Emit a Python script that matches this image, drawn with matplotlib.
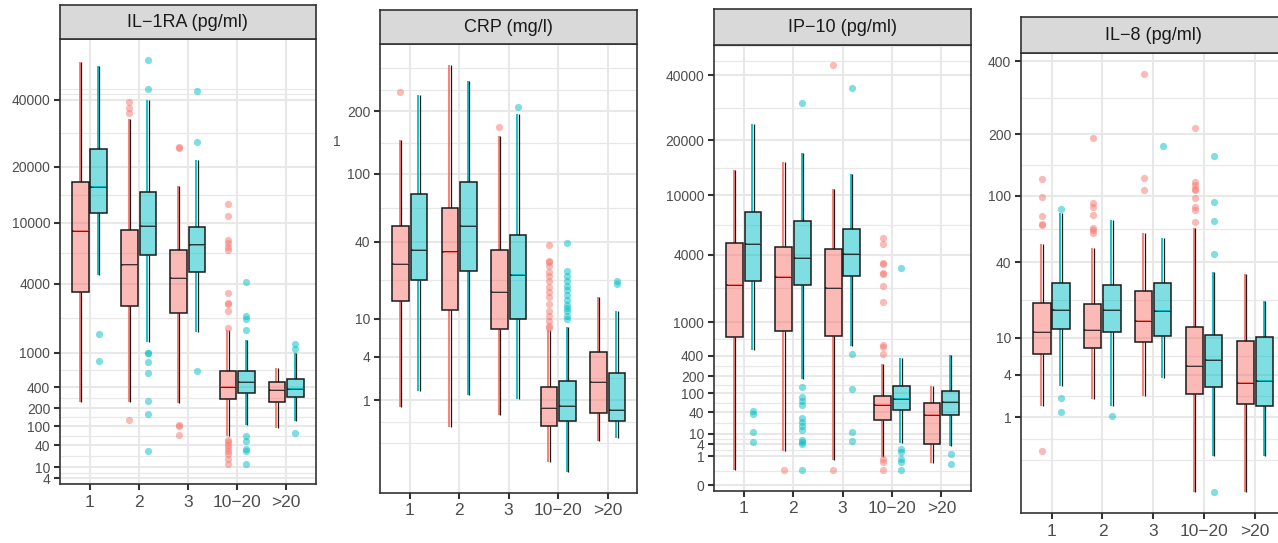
import numpy as np
import matplotlib
matplotlib.use('Agg')
import matplotlib.pyplot as plt
from matplotlib import transforms
from matplotlib.patches import Rectangle
from matplotlib.colors import to_rgba

plt.rcParams['font.family'] = ['Liberation Sans', 'DejaVu Sans']

# categories on the x axis and the shared y breaks
categories = ['1', '2', '3', '10\u221220', '>20']
breaks = [0, 1, 4, 10, 40, 100, 200, 400, 1000, 4000, 10000, 20000, 40000]
titles = ['IL\u22121RA (pg/ml)', 'CRP (mg/l)', 'IP\u221210 (pg/ml)', 'IL\u22128 (pg/ml)']

# box stats per category: lower whisker, q1, median, q3, upper whisker
il1ra_red = [[248, 3440, 8980, 16840, 56400],
             [248, 2704, 5387, 9100, 33240],
             [240, 2353, 4397, 6773, 16010],
             [62.6, 275, 408, 637, 1681],
             [91.8, 248, 369, 465, 684]]
il1ra_teal = [[4640, 11390, 15760, 24430, 54450],
              [1275, 6320, 9575, 14830, 40000],
              [1588, 4850, 7290, 9525, 21600],
              [102.6, 333, 465, 637, 1355],
              [124.6, 290, 381, 511, 1011]]
il1ra_red_out = [[],
                 [39360, 36930, 35170, 130],
                 [24970, 24700, 105.8, 100, 67.9],
                 [12830, 11030, 7911, 7578, 7183, 6843, 3404, 2843, 2800, 2427, 1742,
                  53, 47, 40, 35, 30, 24, 18, 13],
                 []]
il1ra_teal_out = [[1521, 819],
                  [57700, 44200, 1000, 990, 799, 608, 262, 164, 28.4],
                  [43660, 26170, 625],
                  [4154, 2203, 2092, 1681, 62.6, 49, 32.6, 30, 12.6],
                  [1219, 1096, 73.4]]

crp_red = [[0.749, 14.4, 28, 50.5, 148],
           [0.308, 12.05, 33.8, 64.7, 313],
           [0.539, 7.94, 17.16, 35.3, 153.7],
           [0.0267, 0.314, 0.719, 1.614, 7.82],
           [0.139, 0.581, 1.906, 4.57, 15.6]]
crp_teal = [[1.376, 21.4, 35.3, 77.7, 235],
            [1.205, 25, 50.5, 90.1, 269.8],
            [1.04, 10, 23.3, 44.1, 194.4],
            [0.0091, 0.408, 0.80, 1.97, 8.37],
            [0.164, 0.402, 0.678, 2.48, 11.8]]
crp_red_out = [[242.8],
               [],
               [169.8],
               [37.9, 29.6, 28.8, 27.2, 24.5, 22.9, 21, 18.6, 17, 15.4, 13.5, 11.8,
                10.6, 9.55, 8.55, 8.1],
               []]
crp_teal_out = [[],
                [],
                [208],
                [38.9, 25, 22.9, 21, 19.2, 17.6, 16.1, 14.7, 13.4, 12.5, 11.8, 10.6, 10],
                [21, 19.9]]

ip10_red = [[0.0657, 682, 2281, 4855, 13970],
            [1.88, 791, 2652, 4541, 15380],
            [0.524, 706, 2161, 4436, 10897],
            [0.915, 25.7, 59.6, 91, 308.5],
            [0.354, 4.25, 34.5, 64.8, 139]]
ip10_teal = [[477, 2469, 4799, 7890, 23990],
             [182, 2281, 3759, 6903, 17160],
             [535.7, 2719, 4053, 6134, 13270],
             [4.54, 44.5, 78.3, 135, 370],
             [3.49, 33.8, 66.7, 109.8, 410]]
ip10_red_out = [[],
                [0.066],
                [44050, 0.066],
                [5318, 4776, 3440, 3397, 2862, 2824, 2236, 1577, 551, 516, 423,
                 0.613, 0.42, 0.066],
                []]
ip10_teal_out = [[42.2, 37.2, 11.4, 4.99],
                 [30070, 129.7, 84.3, 70, 57.6, 29, 22.7, 17, 12.9, 6.13, 4.81, 3.86, 0.066],
                 [35420, 419, 121.5, 11.1, 5.27],
                 [3176, 2.47, 1.67, 0.683, 0.393, 0.066],
                 [1.25, 0.295]]

il8_red = [[1.54, 6.87, 11.3, 20.05, 52.7],
           [1.937, 7.84, 11.79, 19.7, 49.2],
           [2.108, 9.0, 14.07, 25, 61.4],
           [0.00518, 2.297, 5.03, 12.44, 66],
           [0.00518, 1.635, 3.18, 9.34, 33.3]]
il8_teal = [[2.875, 12.1, 17.45, 28.5, 80.4],
            [1.54, 11.2, 17.45, 27.7, 73.6],
            [3.67, 10.43, 17.25, 28.5, 57.2],
            [0.147, 2.79, 5.97, 10.66, 34.2],
            [0.147, 1.503, 3.33, 10.14, 20.9]]
il8_red_out = [[122.8, 98.5, 76.9, 69.7, 68.1, 0.199],
               [192.7, 91.4, 86.9, 78.6, 65.8, 63.7, 61.4],
               [356.8, 123.8, 106.8],
               [214.3, 118.1, 113.5, 108.6, 106.8, 97.2, 86.9, 83.9, 70.9],
               []]
il8_teal_out = [[84.6, 1.973, 1.21],
                [1.069],
                [176.3],
                [158.1, 92.5, 72.6, 45.5, 0.00518],
                []]

panels = [(il1ra_red, il1ra_teal, il1ra_red_out, il1ra_teal_out),
          (crp_red, crp_teal, crp_red_out, crp_teal_out),
          (ip10_red, ip10_teal, ip10_red_out, ip10_teal_out),
          (il8_red, il8_teal, il8_red_out, il8_teal_out)]

RED = '#F8766D'
TEAL = '#00BFC4'
GRID = '#E8E8E8'
DARK = '#333333'

# panel boxes in pixels: left, right, strip top, panel top, panel bottom
W, H = 1278, 543
layout = [(60, 315.7, 5, 39.3, 484.3),
          (380, 637.3, 10, 44.3, 492.7),
          (714, 971, 9.3, 45, 490.7),
          (1021, 1285.7, 17.3, 53.3, 513.3)]


def fwd(v):
    v = np.asarray(v, dtype=float)
    return np.sign(v) * np.abs(v) ** 0.25


def inv(v):
    v = np.asarray(v, dtype=float)
    return np.sign(v) * np.abs(v) ** 4


def minor_breaks(b, lim):
    # same rule as ggplot2's regular_minor_breaks
    b = list(b)
    bd = b[1] - b[0]
    if lim[0] < b[0]:
        b = [b[0] - bd] + b
    if lim[1] > b[-1]:
        b = b + [b[-1] + bd]
    out = []
    for a, c in zip(b[:-1], b[1:]):
        out += [a, (a + c) / 2]
    out.append(b[-1])
    return [m for m in out if lim[0] <= m <= lim[1]]


fig = plt.figure(figsize=(W / 100, H / 100), dpi=100)

for k, (stats_r, stats_t, out_r, out_t) in enumerate(panels):
    left, right, stop, ptop, pbot = layout[k]
    ax = fig.add_axes([left / W, 1 - pbot / H, (right - left) / W, (pbot - ptop) / H])
    sax = fig.add_axes([left / W, 1 - ptop / H, (right - left) / W, (ptop - stop) / H])

    ax.set_yscale('function', functions=(fwd, inv))

    # limits: data range in transformed space, expanded by 5 %
    allv = []
    for s in (stats_r, stats_t):
        for row in s:
            allv += row
    for o in (out_r, out_t):
        for row in o:
            allv += row
    tv = fwd(allv)
    lo, hi = tv.min(), tv.max()
    pad = 0.05 * (hi - lo)
    lim = (lo - pad, hi + pad)
    ax.set_ylim(inv(lim[0]), inv(lim[1]))
    ax.set_xlim(0.4, 5.6)

    tb = [b for b in breaks if lim[0] <= fwd(b) <= lim[1]]
    ax.set_yticks(tb)
    ax.set_yticklabels([str(b) for b in tb])
    mb = minor_breaks([float(fwd(b)) for b in tb], lim)
    ax.set_yticks([float(inv(m)) for m in mb], minor=True)
    ax.set_xticks(range(1, 6))
    ax.set_xticklabels(categories)

    ax.grid(which='major', color=GRID, lw=1.5)
    ax.grid(which='minor', axis='y', color=GRID, lw=0.9)
    ax.set_axisbelow(True)
    ax.tick_params(axis='y', which='major', length=4, width=1.5, color=DARK,
                   labelcolor='#4D4D4D', labelsize=10, pad=3)
    ax.tick_params(axis='x', which='major', length=4, width=1.5, color=DARK,
                   labelcolor='#4D4D4D', labelsize=12.5, pad=3.5)
    ax.tick_params(which='minor', length=0)
    for sp in ax.spines.values():
        sp.set_color(DARK)
        sp.set_linewidth(1.2)

    tl = transforms.offset_copy(ax.transData, fig=fig, x=-0.7, y=0, units='dots')
    tr = transforms.offset_copy(ax.transData, fig=fig, x=0.7, y=0, units='dots')
    tu = transforms.offset_copy(ax.transData, fig=fig, x=0, y=0.9, units='dots')

    bw = 0.3375
    for stats, outs, col, off in ((stats_r, out_r, RED, -0.1875),
                                  (stats_t, out_t, TEAL, 0.1875)):
        for i, (wlo, q1, med, q3, whi) in enumerate(stats):
            x = i + 1 + off
            for a, b in ((wlo, q1), (q3, whi)):
                ax.plot([x, x], [a, b], color=col, lw=1.3, transform=tl, zorder=2,
                        solid_capstyle='butt')
                ax.plot([x, x], [a, b], color='#1A1A1A', lw=0.9, transform=tr, zorder=2,
                        solid_capstyle='butt')
            ax.add_patch(Rectangle((x - bw / 2, q1), bw, q3 - q1,
                                   facecolor=to_rgba(col, 0.5), edgecolor='#1A1A1A',
                                   lw=1.1, zorder=3))
            ax.plot([x - bw / 2, x + bw / 2], [med, med], color='#1A1A1A', lw=1.2,
                    zorder=4, solid_capstyle='butt')
            ax.plot([x - bw / 2 + 0.02, x + bw / 2 - 0.02], [med, med], color=col,
                    lw=0.7, transform=tu, zorder=4, solid_capstyle='butt')
            if outs[i]:
                ax.plot(np.full(len(outs[i]), x), outs[i], 'o', ms=5.2, color=col,
                        alpha=0.5, mec='none', zorder=5)

    # facet strip
    sax.set_facecolor('#D9D9D9')
    sax.set_xticks([])
    sax.set_yticks([])
    for sp in sax.spines.values():
        sp.set_color(DARK)
        sp.set_linewidth(1.2)
    sax.text(0.5, 0.5, titles[k], ha='center', va='center', fontsize=13,
             color='#1A1A1A', transform=sax.transAxes)

    if k == 1:
        ax.text(-0.167, 144, '1', ha='center', va='center', fontsize=10,
                color='#4D4D4D',
                transform=transforms.blended_transform_factory(ax.transAxes, ax.transData))

fig.savefig('out.png', dpi=100)
